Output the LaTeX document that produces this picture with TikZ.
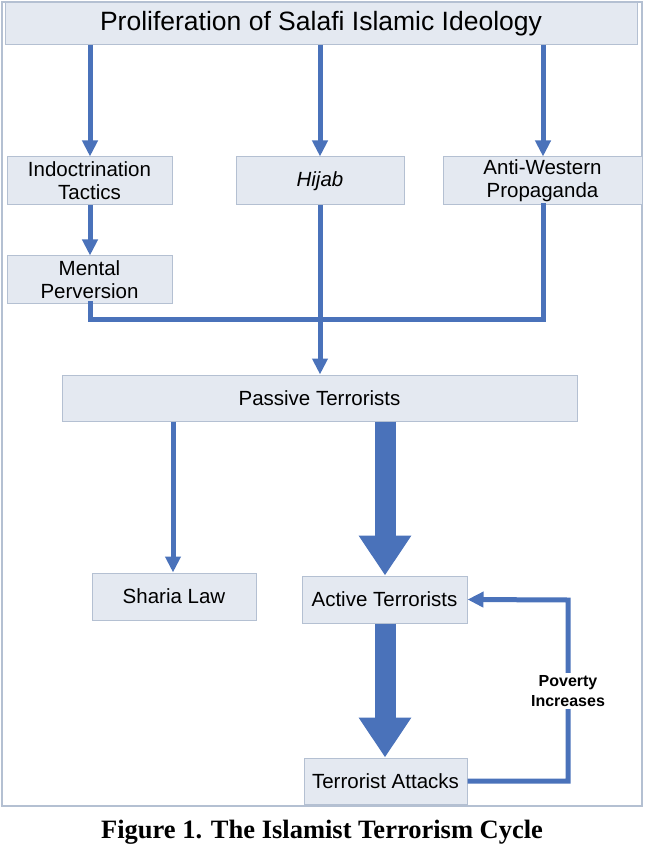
\documentclass[tikz,border=0pt]{standalone}
\usepackage{fontspec}
\setmainfont{Liberation Sans}
\newfontfamily\capfont{Liberation Serif}
\usetikzlibrary{arrows.meta}
\definecolor{boxfill}{HTML}{E4E9F1}
\definecolor{boxline}{HTML}{B4C0D2}
\definecolor{flow}{HTML}{4A72BA}
\tikzset{box/.style={draw=boxline,fill=boxfill,line width=1pt,align=center,inner sep=0pt,font=\fontsize{20.5}{23}\selectfont},
thin/.style={draw=flow,line width=5pt,-{Triangle[width=15pt,length=16pt]}},
flat/.style={draw=flow,line width=5pt},
thick/.style={draw=flow,line width=21pt,-{Triangle[width=50pt,length=40pt]}}}
\begin{document}
\begin{tikzpicture}[x=1pt,y=-1pt]
\useasboundingbox (0,0) rectangle (645,858);
\draw[boxline,line width=1.2pt] (2,2) rectangle (642,806);
\node[box,minimum width=632pt,minimum height=42pt,font=\fontsize{26.5}{30}\selectfont] (top) at (321,24) {Proliferation of Salafi Islamic Ideology};
\node[box,minimum width=165pt,minimum height=48pt] (indoc) at (89.5,181) {Indoctrination\\Tactics};
\node[box,minimum width=168pt,minimum height=48pt] (hijab) at (320,181) {\itshape Hijab};
\node[box,minimum width=199pt,minimum height=48pt] (anti) at (542.5,181) {Anti-Western\\Propaganda};
\node[box,minimum width=165pt,minimum height=47pt] (mental) at (89.5,279.5) {Mental\\Perversion};
\node[box,minimum width=515pt,minimum height=46pt] (passive) at (319.5,398) {Passive Terrorists};
\node[box,minimum width=164pt,minimum height=47pt] (sharia) at (174,596.5) {Sharia Law};
\node[box,minimum width=165pt,minimum height=47pt] (active) at (384.5,599.5) {Active Terrorists};
\node[box,minimum width=163pt,minimum height=46pt] (attacks) at (385.5,781) {Terrorist Attacks};
\coordinate (joinL) at (90,319);
\coordinate (joinR) at (543,319);
\coordinate (loopB) at (568,781);
\coordinate (loopT) at (568,600);
% top branches
\draw[thin] (90,45) -- (indoc.north -| 90,0);
\draw[thin] (320,45) -- (hijab.north);
\draw[thin] (543,45) -- (anti.north -| 543,0);
\draw[thin] (indoc.south -| 90,0) -- (mental.north -| 90,0);
% merge into passive
\draw[flat,line cap=rect] (mental.south -| 90,0) -- (joinL) -- (joinR) -- (anti.south -| 543,0);
\draw[thin] (hijab.south) -- (passive.north -| 320,0);
\draw[thin] (passive.south -| 173,0) -- (sharia.north -| 173,0);
\draw[thick] (passive.south -| 385,0) -- (active.north -| 385,0);
\draw[thick] (active.south -| 385,0) -- (attacks.north -| 385,0);
% cycle
\draw[thin] (attacks.east) -- (loopB) -- (loopT) -- (active.east);
\node[fill=white,align=center,inner sep=2pt,font=\bfseries\fontsize{16}{20}\selectfont] (poverty) at (568,691) {Poverty\\Increases};
\node[font=\capfont\bfseries\fontsize{26.5}{30}\selectfont] (caption) at (322,832) {Figure 1. The Islamist Terrorism Cycle};
\end{tikzpicture}
\end{document}
